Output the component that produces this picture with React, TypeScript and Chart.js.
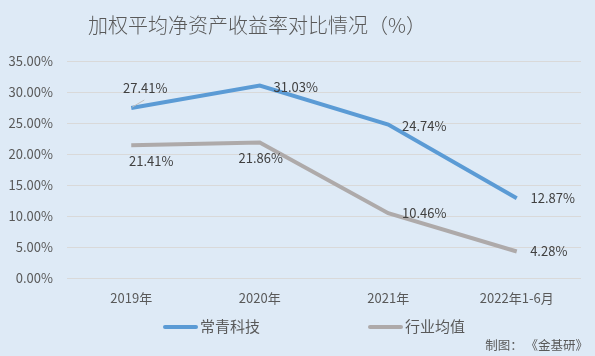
import React, { useEffect, useRef } from "react";
import { Chart, registerables } from "chart.js";

Chart.register(...registerables);

const categories = ["2019年", "2020年", "2021年", "2022年1-6月"];
const changqing = [27.41, 31.03, 24.74, 12.87];
const industry = [21.41, 21.86, 10.46, 4.28];
const seriesNames = ["常青科技", "行业均值"];
const titleText = "加权平均净资产收益率对比情况（%）";
const sourceText = "制图： 《金基研》";

// label offsets (dx, dy) relative to each point, per series
const labelOffsets = [
  [[14, -20], [36, 1], [36, 1], [36, 0]],
  [[20, 16], [1, 16], [36, 0], [32, 0]],
];

const BG = "#DEEAF6";
const BLUE = "#5B9BD5";
const GRAY = "#AEAAAA";
const TEXT = "#595959";
const FONT = '"Noto Sans CJK SC", "Noto Sans", sans-serif';

const decorPlugin = {
  id: "decor",
  beforeDraw(chart: any) {
    const ctx = chart.ctx;
    ctx.save();
    ctx.fillStyle = BG;
    ctx.fillRect(0, 0, chart.width, chart.height);
    ctx.restore();
  },
  afterDraw(chart: any) {
    const ctx = chart.ctx;
    ctx.save();
    // title
    ctx.fillStyle = TEXT;
    ctx.font = `300 20px ${FONT}`;
    ctx.textAlign = "center";
    ctx.textBaseline = "middle";
    ctx.fillText(titleText, 257, 25);

    // data labels
    ctx.font = `13px ${FONT}`;
    ctx.fillStyle = "#404040";
    chart.data.datasets.forEach((ds: any, di: number) => {
      const meta = chart.getDatasetMeta(di);
      meta.data.forEach((pt: any, i: number) => {
        const [dx, dy] = labelOffsets[di][i];
        const v = ds.data[i];
        const x = pt.x + dx;
        const y = pt.y + dy;
        if (di === 0 && i === 0) {
          ctx.save();
          ctx.strokeStyle = "#BFBFBF";
          ctx.lineWidth = 1;
          ctx.beginPath();
          ctx.moveTo(pt.x + 1, pt.y - 1);
          ctx.lineTo(pt.x + 13, pt.y - 8);
          ctx.stroke();
          ctx.restore();
        }
        ctx.fillText(v.toFixed(2) + "%", x, y);
      });
    });

    // legend
    const legendItems = [
      { color: BLUE, x: 163 },
      { color: GRAY, x: 368 },
    ];
    ctx.font = `15px ${FONT}`;
    ctx.textAlign = "left";
    legendItems.forEach((it, i) => {
      ctx.strokeStyle = it.color;
      ctx.lineWidth = 4;
      ctx.lineCap = "round";
      ctx.beginPath();
      ctx.moveTo(it.x + 2, 327);
      ctx.lineTo(it.x + 33, 327);
      ctx.stroke();
      ctx.fillStyle = TEXT;
      ctx.fillText(seriesNames[i], it.x + 37, 326);
    });

    // source
    ctx.font = `12.5px ${FONT}`;
    ctx.textAlign = "right";
    ctx.fillText(sourceText, 588, 345);
    ctx.restore();
  },
};

export default function App() {
  const ref = useRef<HTMLCanvasElement>(null);
  useEffect(() => {
    if (!ref.current) return;
    const chart = new Chart(ref.current, {
      type: "line",
      data: {
        labels: categories,
        datasets: [
          {
            label: seriesNames[0],
            data: changqing,
            borderColor: BLUE,
            borderWidth: 4,
            pointRadius: 0,
            tension: 0,
            fill: false,
          },
          {
            label: seriesNames[1],
            data: industry,
            borderColor: GRAY,
            borderWidth: 4,
            pointRadius: 0,
            tension: 0,
            fill: false,
          },
        ],
      },
      options: {
        responsive: false,
        animation: false,
        layout: { padding: { left: 0, right: 14, top: 61, bottom: 48 } },
        plugins: {
          legend: { display: false },
          title: { display: false },
          tooltip: { enabled: false },
        },
        scales: {
          x: {
            offset: true,
            grid: { display: false, drawTicks: false },
            border: { display: false },
            ticks: {
              color: TEXT,
              font: { family: FONT, size: 13 },
              padding: 12,
            },
            afterFit: (s: any) => {
              s.height = 30;
            },
          },
          y: {
            min: 0,
            max: 35,
            grid: { color: "#D9D9D9", drawTicks: false, lineWidth: 1 },
            border: { display: false },
            ticks: {
              stepSize: 5,
              color: TEXT,
              font: { family: FONT, size: 13 },
              padding: 14,
              callback: (v: any) => Number(v).toFixed(2) + "%",
            },
            afterFit: (s: any) => {
              s.width = 67;
            },
          },
        },
      },
      plugins: [decorPlugin],
    });
    return () => chart.destroy();
  }, []);
  return (
    <div style={{ position: "fixed", left: 0, top: 0, width: 595, height: 356, background: BG }}>
      <canvas ref={ref} width={595} height={356} style={{ display: "block" }} />
    </div>
  );
}
